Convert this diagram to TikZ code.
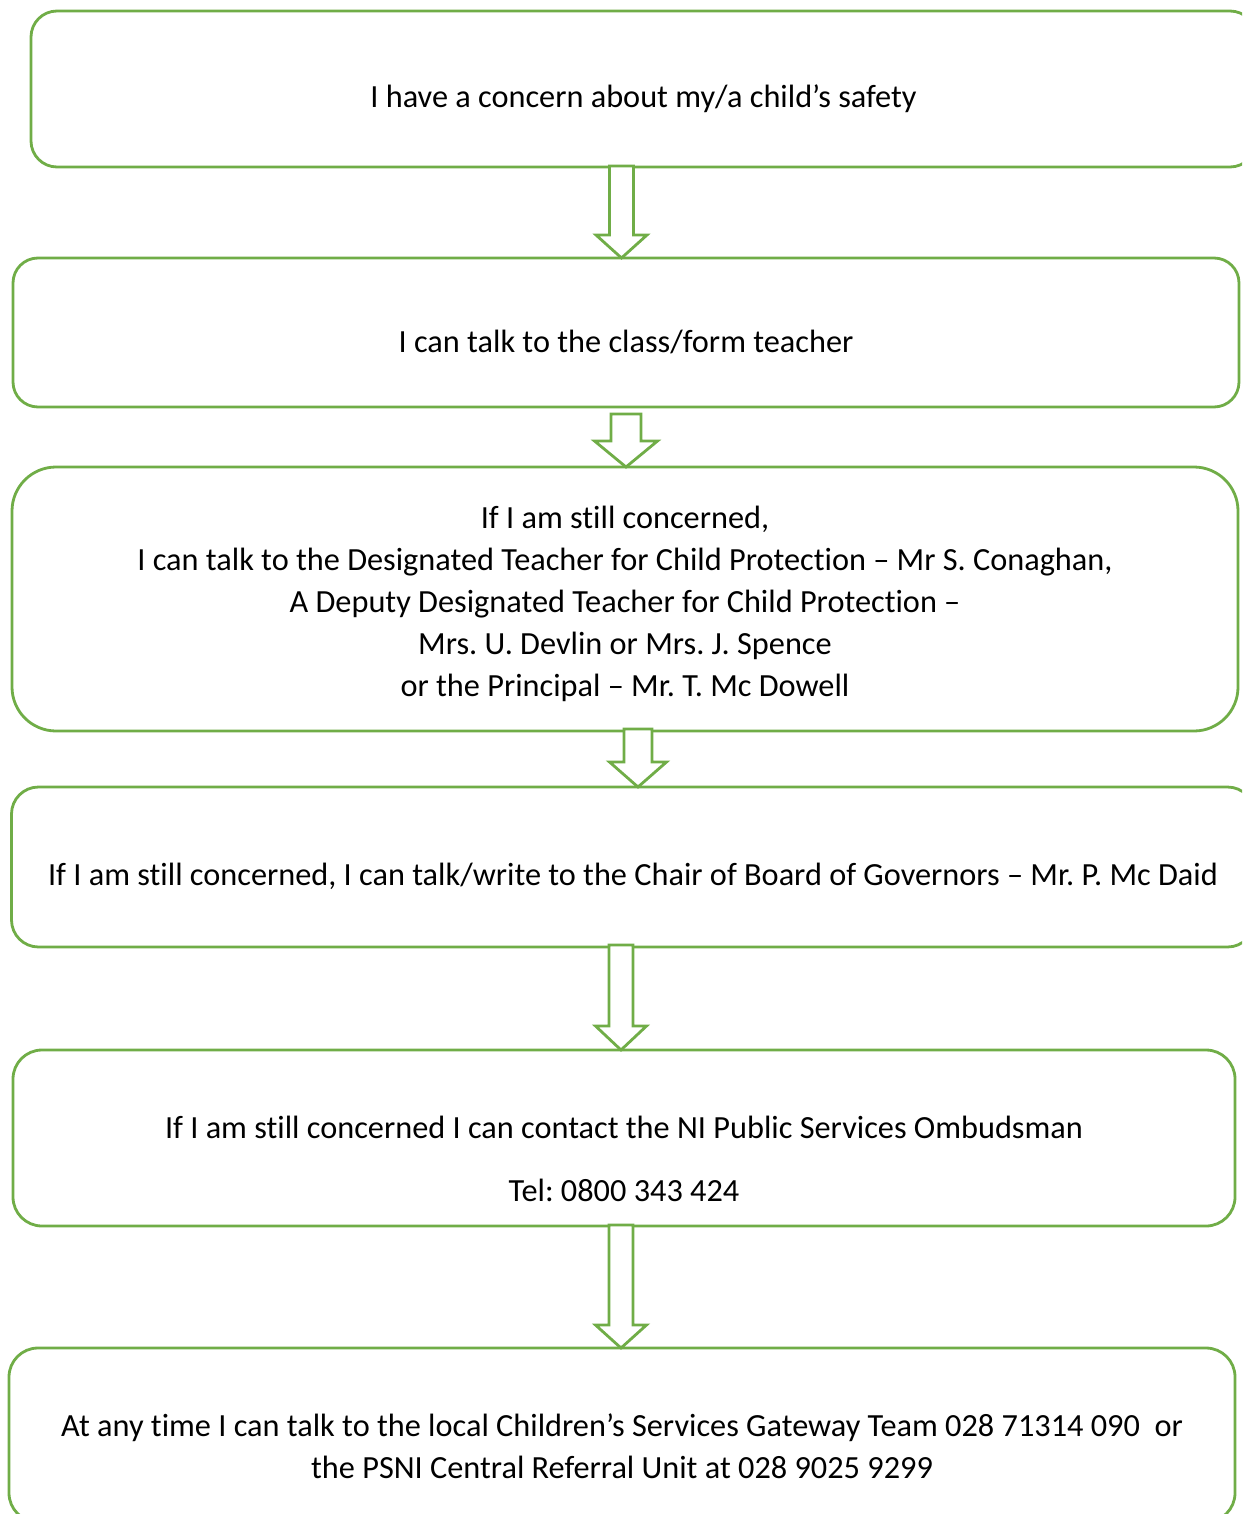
\documentclass[tikz,border=0pt]{standalone}
\usepackage{fontspec}
\setmainfont{Carlito}[Ligatures=NoCommon]
\frenchspacing
\usetikzlibrary{calc}
\definecolor{boxgreen}{HTML}{70AD47}

% hollow down arrow between two boxes: from, to, centre x, shaft half, head half, head length, gap below top box
\newcommand{\blockdown}[7]{%
  \draw[blockarrow] let \p1=(#1.south), \p2=(#2.north), \n1={\y1-(#7pt)} in
    (#3pt-#4pt,\n1) -- (#3pt+#4pt,\n1) -- (#3pt+#4pt,\y2+#6pt) -- (#3pt+#5pt,\y2+#6pt)
    -- (#3pt,\y2) -- (#3pt-#5pt,\y2+#6pt) -- (#3pt-#4pt,\y2+#6pt) -- cycle;}

\begin{document}
\begin{tikzpicture}[x=1pt, y=-1pt, % pixel units, y going down
    box/.style={draw=boxgreen, line width=2.8pt, fill=white, outer sep=0pt, inner sep=0pt},
    boxtext/.style={align=center, font=\fontsize{32.3}{42}\selectfont, inner sep=0pt},
    blockarrow/.style={draw=boxgreen, line width=2.8pt, fill=white, line join=miter}]
		
		\useasboundingbox (0,0) rectangle (1242,1514);
		\clip (0,0) rectangle (1242,1514);
		
		% First concern
		\node[box, minimum width=1225pt, minimum height=156pt, rounded corners=26pt,
		  label={[boxtext, yshift=-10pt]center:I have a concern about my/a child’s safety}] (concern) at (643.5,89) {};
		
		% Class teacher
		\node[box, minimum width=1226pt, minimum height=149pt, rounded corners=25pt,
		  label={[boxtext, yshift=-9pt]center:I can talk to the class/form teacher}] (teacher) at (626,332.5) {};
		
		% Designated teachers and principal
		\node[box, minimum width=1226pt, minimum height=264pt, rounded corners=44pt,
		  label={[boxtext, yshift=-4.5pt]center:If I am still concerned,\\I can talk to the Designated Teacher for Child Protection – Mr S. Conaghan,\\A Deputy Designated Teacher for Child Protection –\\Mrs. U. Devlin or Mrs. J. Spence\\or the Principal – Mr. T. Mc Dowell}] (designated) at (625,599) {};
		
		% Board of governors
		\node[box, minimum width=1243pt, minimum height=160pt, rounded corners=27pt,
		  label={[boxtext, yshift=-9pt]center:If I am still concerned, I can talk/write to the Chair of Board of Governors – Mr. P. Mc Daid}] (governors) at (633,867) {};
		
		% Ombudsman
		\node[box, minimum width=1222pt, minimum height=176pt, rounded corners=29pt,
		  label={[boxtext, yshift=-21pt]center:If I am still concerned I can contact the NI Public Services Ombudsman\\[21pt]Tel: 0800 343 424}] (ombudsman) at (624,1138) {};
		
		% Gateway team / PSNI
		\node[box, minimum width=1226pt, minimum height=174pt, rounded corners=29pt,
		  label={[boxtext, yshift=-11pt]center:At any time I can talk to the local Children’s Services Gateway Team 028 71314 090\ \ or\\the PSNI Central Referral Unit at 028 9025 9299}] (gateway) at (622,1435) {};
		
		% Arrows
		\blockdown{concern}{teacher}{621.5}{12}{25.5}{23}{-1}
		\blockdown{teacher}{designated}{626}{15}{31.5}{26}{7}
		\blockdown{designated}{governors}{638}{14}{28.5}{25}{-2}
		\blockdown{governors}{ombudsman}{621}{12}{25.5}{24}{-2}
		\blockdown{ombudsman}{gateway}{621}{12}{25.5}{23}{-1}
	\end{tikzpicture}
\end{document}
